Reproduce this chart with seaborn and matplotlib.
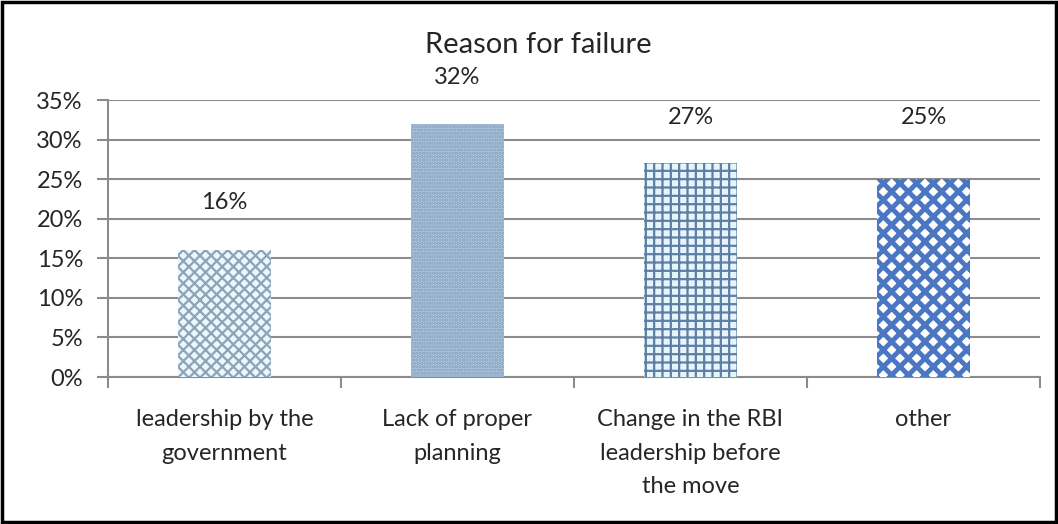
import matplotlib
matplotlib.use("Agg")
import matplotlib.pyplot as plt
import seaborn as sns
import pandas as pd
from matplotlib.patches import Rectangle

sns.set_style("white")
plt.rcParams['font.family'] = ['Lato', 'DejaVu Sans']
plt.rcParams['hatch.linewidth'] = 1.6

# data
categories = ['leadership by the\ngovernment', 'Lack of proper\nplanning',
              'Change in the RBI\nleadership before\nthe move', 'other']
values = [16, 32, 27, 25]
value_labels = ['16%', '32%', '27%', '25%']
# where Excel put the data labels (in %)
label_y = [22.0, 37.9, 32.8, 32.8]

df = pd.DataFrame({'reason': categories, 'share': values})

# fill styles for each bar: face, hatch colour, hatch, hatch width
faces = ['#EAF7FB', '#B3C8DC', '#E6F5FC', '#FFFFFF']
hatch_colors = ['#8DA3B8', '#7F9DBF', '#5E7FA3', '#4A76C2']
hatches = ['xxx', '.....', '++', 'xx']
hatch_widths = [1.6, 1.6, 1.6, 3.5]

fig = plt.figure(figsize=(10.58, 5.24), dpi=100)
ax = fig.add_axes([0.102, 0.2805, 0.881, 0.5285])

sns.barplot(data=df, x='reason', y='share', ax=ax, width=0.4, color='white')

for bar, fc, hc, h, hw in zip(ax.patches, faces, hatch_colors, hatches, hatch_widths):
    bar.set_facecolor(fc)
    bar.set_edgecolor(hc)
    bar.set_hatch(h)
    bar.set_linewidth(0)
    bar.set_zorder(3)
    if hasattr(bar, 'set_hatch_linewidth'):
        bar.set_hatch_linewidth(hw)

for i, (lab, yy) in enumerate(zip(value_labels, label_y)):
    ax.text(i, yy, lab, ha='center', va='center', fontsize=17, clip_on=False)

ax.set_ylim(0, 35)
ax.set_xlim(-0.5, 3.5)
ax.set_yticks(range(0, 36, 5))
ax.set_yticklabels([f'{v}%' for v in range(0, 36, 5)], fontsize=17)
ax.yaxis.grid(True, color='#8C8C8C', linewidth=1.5, zorder=0)
ax.set_axisbelow(True)
ax.set_xlabel('')
ax.set_ylabel('')
ax.set_xticks([-0.5, 0.5, 1.5, 2.5, 3.5], minor=True)
ax.tick_params(axis='x', which='major', length=0, labelsize=17, pad=23)
ax.tick_params(axis='x', which='minor', length=8, width=1.5, color='#8C8C8C', direction='out')
ax.tick_params(axis='y', length=8, width=1.5, color='#8C8C8C', direction='out', pad=10)
ax.tick_params(left=True, bottom=True, which='both')
for lab in ax.get_xticklabels():
    lab.set_linespacing(1.75)
    lab.set_verticalalignment('top')

for s in ['top', 'right']:
    ax.spines[s].set_visible(False)
for s in ['left', 'bottom']:
    ax.spines[s].set_color('#8C8C8C')
    ax.spines[s].set_linewidth(1.5)

fig.text(0.5085, 0.914, 'Reason for failure', ha='center', va='center', fontsize=21)

fig.patches.append(Rectangle((0.002, 0.003), 0.996, 0.994, transform=fig.transFigure,
                             fill=False, edgecolor='black', linewidth=2.5))

fig.savefig('out.png', dpi=100)
